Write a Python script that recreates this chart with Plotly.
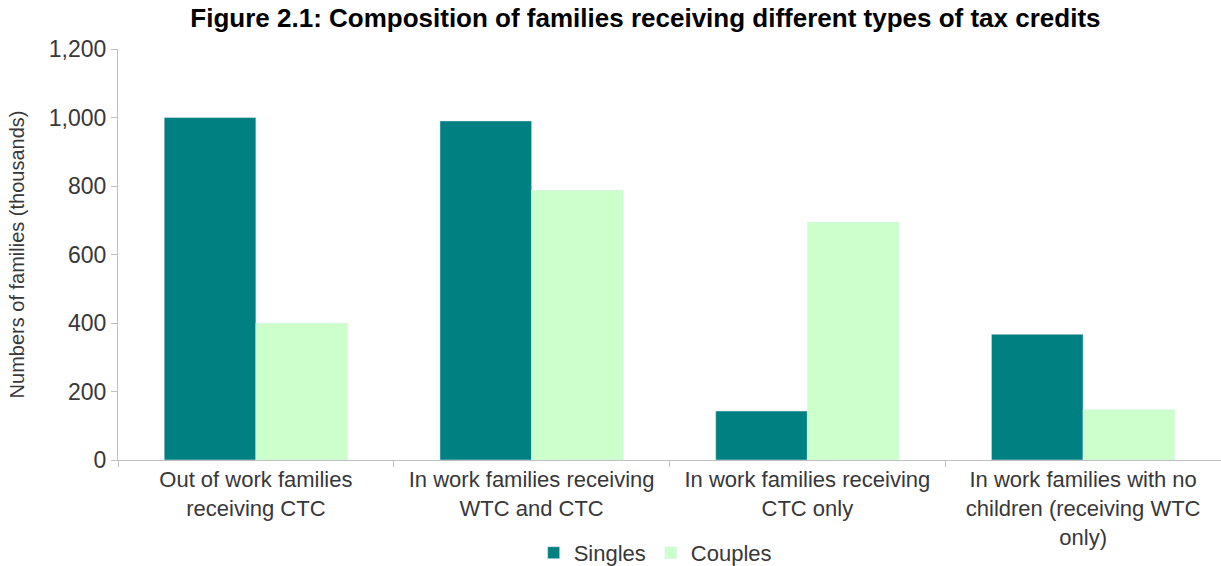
import plotly.graph_objects as go

categories = [
    "Out of work families<br>receiving CTC",
    "In work families receiving<br>WTC and CTC",
    "In work families receiving<br>CTC only",
    "In work families with no<br>children (receiving WTC<br>only)",
]
singles = [1000, 990, 143, 367]
couples = [400, 788, 695, 148]
y_ticks = [0, 200, 400, 600, 800, 1000, 1200]

fig = go.Figure()
fig.add_trace(go.Bar(name="Singles", x=categories, y=singles, marker_color="#008080"))
fig.add_trace(go.Bar(name="Couples", x=categories, y=couples, marker_color="#CCFFCC"))

fig.update_layout(
    width=1221, height=566,
    margin=dict(l=118, r=0, t=49, b=106, autoexpand=False),
    paper_bgcolor="white", plot_bgcolor="white",
    barmode="group", bargap=0.335, bargroupgap=0,
    font=dict(family="Liberation Sans, Arial, sans-serif", size=22, color="#383838"),
    title=dict(text="<b>Figure 2.1: Composition of families receiving different types of tax credits</b>",
               x=0.5286, xanchor="center", y=0.968, yanchor="middle",
               font=dict(size=26, color="#000000")),
    legend=dict(orientation="h", x=0.487, xanchor="center", y=-0.226, yanchor="middle",
                font=dict(size=22), itemwidth=30, traceorder="normal"),
    showlegend=True,
)
fig.update_yaxes(
    range=[0, 1200], tickvals=y_ticks, tickformat=",",
    showline=True, linecolor="#BFBFBF", linewidth=1,
    ticks="outside", tickcolor="#BFBFBF", ticklen=6,
    showgrid=False, zeroline=False, automargin=False,
    tickfont=dict(size=23),
    title=dict(text="Numbers of families (thousands)", font=dict(size=20), standoff=18),
)
fig.update_xaxes(
    showline=True, linecolor="#BFBFBF", linewidth=1,
    ticks="outside", tickcolor="#BFBFBF", ticklen=6, tickson="boundaries",
    showgrid=False, automargin=False,
    tickfont=dict(size=22),
)
fig.write_html(
    "out.html",
    config={"displayModeBar": False},
    post_script="document.body.style.margin='0';document.body.style.overflow='hidden';",
)
